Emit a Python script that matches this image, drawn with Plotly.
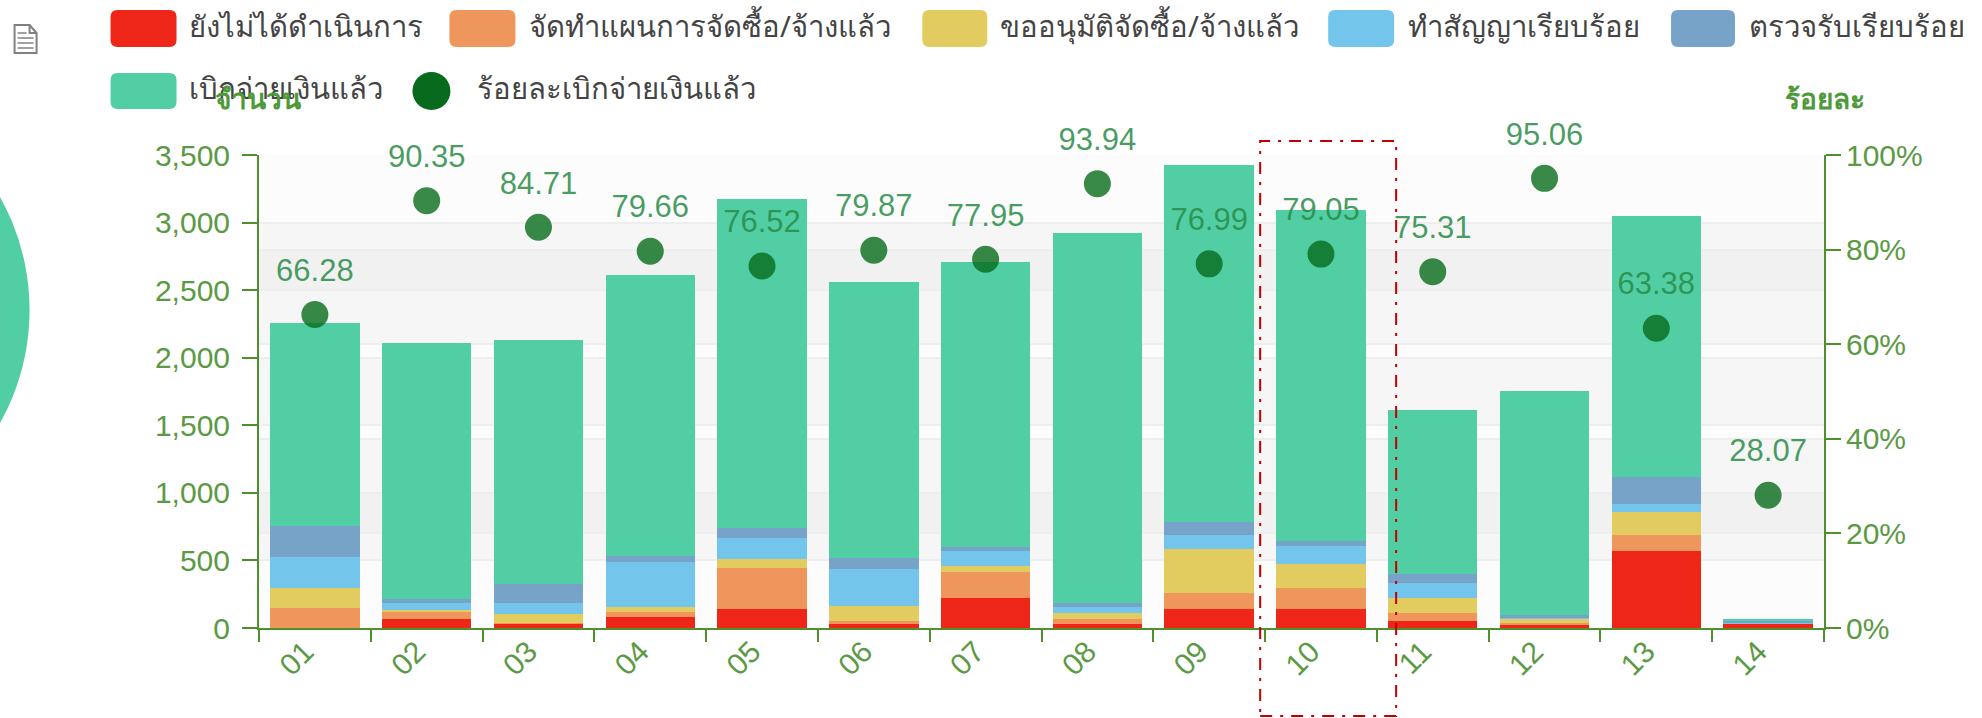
import plotly.graph_objects as go

categories = ["01","02","03","04","05","06","07","08","09","10","11","12","13","14"]
series_names = ["ยังไม่ได้ดำเนินการ","จัดทำแผนการจัดซื้อ/จ้างแล้ว","ขออนุมัติจัดซื้อ/จ้างแล้ว","ทำสัญญาเรียบร้อย","ตรวจรับเรียบร้อย","เบิกจ่ายเงินแล้ว"]
line_name = "ร้อยละเบิกจ่ายเงินแล้ว"
not_started = [2,68,32,85,141,32,220,32,141,141,49,25,573,30]
planned = [144,54,2,37,305,22,195,36,115,157,62,12,116,2]
approval = [152,12,71,37,61,109,41,42,330,173,111,30,168,2]
contracted = [227,49,78,329,159,276,113,44,104,134,111,5,57,3]
inspected = [231,29,142,42,73,78,29,29,96,42,67,27,205,20]
paid = [1499,1896,1803,2084,2435,2040,2107,2740,2641,2448,1210,1654,1926,10]
percent = [66.28,90.35,84.71,79.66,76.52,79.87,77.95,93.94,76.99,79.05,75.31,95.06,63.38,28.07]
colors = ["#ee2617","#ef965d","#e2cc60","#74c5eb","#76a3c7","#52cea4"]
left_ticks = [0,500,1000,1500,2000,2500,3000,3500]
right_ticks = [0,20,40,60,80,100]
right_labels = ["0%","20%","40%","60%","80%","100%"]

W,H = 1982,718
L,R,T,B = 258.5,1824,155,628
FONT = "Liberation Sans, Noto Sans, sans-serif"
GREEN = "#5b9a44"
AXIS = "#4e8f2e"
def px(x): return (x-L)/(R-L)
def py(y): return (B-y)/(B-T)

fig = go.Figure()
for name,vals,c in zip(series_names,[not_started,planned,approval,contracted,inspected,paid],colors):
    fig.add_bar(x=categories,y=vals,name=name,marker=dict(color=c,line_width=0),showlegend=False,yaxis="y")
fig.add_scatter(x=categories,y=percent,yaxis="y2",mode="markers",name=line_name,showlegend=False,cliponaxis=False,
    marker=dict(size=27,color="rgba(7,107,28,0.8)"))
fig.add_scatter(x=categories,y=percent,yaxis="y2",mode="markers+text",name=line_name+" labels",showlegend=False,cliponaxis=False,
    marker=dict(size=40,color="rgba(0,0,0,0)"),text=[f"{v:.2f}" for v in percent],
    textposition="top center",textfont=dict(size=31,color="rgba(40,140,70,0.85)",family=FONT),hoverinfo="skip")

shapes=[]
shapes.append(dict(type="rect",xref="paper",yref="paper",x0=0,x1=1,y0=0,y1=1,fillcolor="rgba(250,250,250,0.6)",line_width=0,layer="below"))
for a,b in zip(left_ticks[1::2],left_ticks[2::2]):
    shapes.append(dict(type="rect",xref="paper",yref="y",x0=0,x1=1,y0=a,y1=b,fillcolor="rgba(200,200,200,0.1)",line_width=0,layer="below"))
for a,b in zip(right_ticks[1::2],right_ticks[2::2]):
    shapes.append(dict(type="rect",xref="paper",yref="y2",x0=0,x1=1,y0=a,y1=b,fillcolor="rgba(200,200,200,0.1)",line_width=0,layer="below"))
# cropped pie at the left edge
shapes.append(dict(type="circle",xref="paper",yref="paper",x0=px(-433),x1=px(29),y0=py(541),y1=py(79),fillcolor="#52cea4",line_width=0))
# red dashed frame
shapes.append(dict(type="rect",xref="paper",yref="paper",x0=px(1260),x1=px(1396),y0=py(716),y1=py(141),line=dict(color="#c00000",width=2,dash="12px,8px,3px,8px")))
# document icon
def P(x,y): return f"{px(x)},{py(y)}"
shapes.append(dict(type="path",xref="paper",yref="paper",
    path=f"M{P(14,25)} L{P(29,25)} L{P(36,33)} L{P(36,53)} L{P(14,53)} Z M{P(29,25)} L{P(29,33)} L{P(36,33)}",
    line=dict(color="#808080",width=2),fillcolor="white"))
for yy in [33,38,43,48]:
    x0 = 17
    x1 = 26 if yy==33 else 33
    shapes.append(dict(type="line",xref="paper",yref="paper",x0=px(x0),x1=px(x1),y0=py(yy),y1=py(yy),line=dict(color="#808080",width=1.5)))

ann=[]
def legend_text(x,y,t):
    ann.append(dict(xref="paper",yref="paper",x=px(x),y=py(y),text=t,showarrow=False,xanchor="left",yanchor="middle",font=dict(size=29.3,color="#444",family="Noto Sans, sans-serif")))
def swatch(x0,x1,y0,y1,c):
    r=7
    path=(f"M{P(x0+r,y0)} L{P(x1-r,y0)} Q{P(x1,y0)} {P(x1,y0+r)} L{P(x1,y1-r)} Q{P(x1,y1)} {P(x1-r,y1)} "
          f"L{P(x0+r,y1)} Q{P(x0,y1)} {P(x0,y1-r)} L{P(x0,y0+r)} Q{P(x0,y0)} {P(x0+r,y0)} Z")
    shapes.append(dict(type="path",xref="paper",yref="paper",path=path,fillcolor=c,line_width=0))
row1=[(110,176,186),(449,515,527),(922,987,998),(1328,1394,1406),(1671,1735,1747)]
for (a,b,t),n,c in zip(row1,series_names[:5],colors[:5]):
    swatch(a,b,10,47,c); legend_text(t,26,n)
swatch(110,176,73,109,colors[5]); legend_text(186,88,series_names[5])
shapes.append(dict(type="circle",xref="paper",yref="paper",x0=px(412),x1=px(450),y0=py(110),y1=py(72),fillcolor="#076a1c",line_width=0))
legend_text(475,88,line_name)
for x,t in [(257,"จำนวน"),(1825,"ร้อยละ")]:
    ann.append(dict(xref="paper",yref="paper",x=px(x),y=py(98),text=f"<b>{t}</b>",showarrow=False,xanchor="center",yanchor="middle",font=dict(size=28,color="#4e9a3a",family="Noto Sans, sans-serif")))

fig.update_layout(width=W,height=H,autosize=False,margin=dict(l=L,r=W-R,t=T,b=H-B),barmode="stack",bargap=0.2,
    paper_bgcolor="white",plot_bgcolor="rgba(0,0,0,0)",showlegend=False,shapes=shapes,annotations=ann,
    font=dict(family=FONT,size=30,color=GREEN),
    xaxis=dict(type="category",range=[-0.5,13.5],tickson="boundaries",ticks="outside",ticklen=12,tickwidth=2,tickcolor=AXIS,showline=True,linecolor=AXIS,linewidth=2,tickangle=-45,tickfont=dict(size=30,color=GREEN),showgrid=False,ticklabelshift=-10,ticklabelstandoff=-8),
    yaxis=dict(range=[0,3500],tickvals=left_ticks,tickformat=",",ticks="outside",ticklen=15,tickwidth=2,tickcolor=AXIS,showline=True,linecolor=AXIS,linewidth=2,gridcolor="#eeeeee",gridwidth=2,zeroline=False,tickfont=dict(size=30,color=GREEN),ticklabelstandoff=6),
    yaxis2=dict(range=[0,100],tickvals=right_ticks,ticktext=right_labels,overlaying="y",side="right",ticks="outside",ticklen=15,tickwidth=2,tickcolor=AXIS,showline=True,linecolor=AXIS,linewidth=2,gridcolor="#eeeeee",gridwidth=2,zeroline=False,tickfont=dict(size=30,color=GREEN),ticklabelstandoff=-1),
)
fig.write_html("out.html",config=dict(displayModeBar=False),post_script="document.body.style.margin='0';document.body.style.overflow='hidden';")
